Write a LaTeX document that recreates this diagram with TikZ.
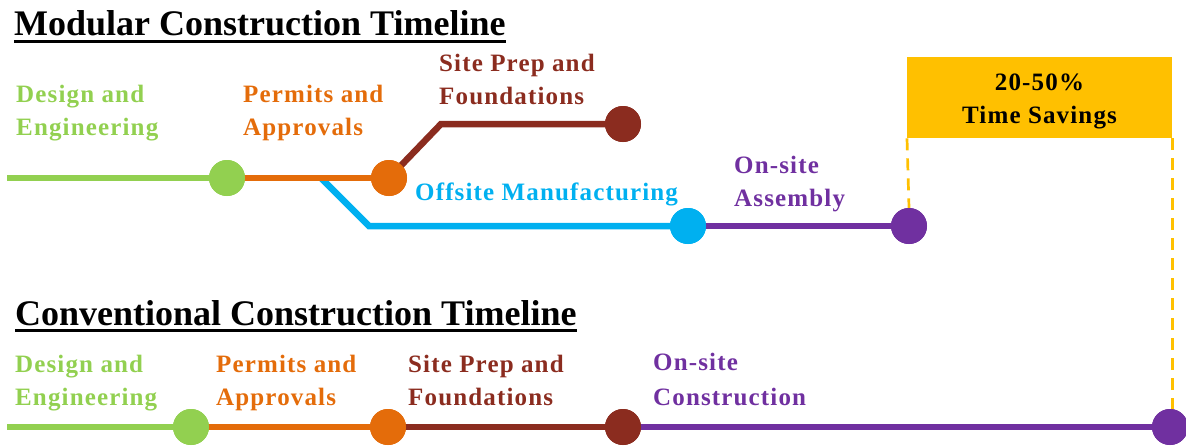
\documentclass[tikz,border=0pt]{standalone}
\usepackage{fontspec}
\setmainfont{Liberation Serif}
\newfontfamily\spacedserif{Liberation Serif}[LetterSpace=4.6]
\definecolor{cgreen}{HTML}{92D050}
\definecolor{corange}{HTML}{E46C0A}
\definecolor{cbrown}{HTML}{8B2C1F}
\definecolor{cblue}{HTML}{00B0F0}
\definecolor{cpurple}{HTML}{7030A0}
\definecolor{cgold}{HTML}{FFC000}
\begin{document}
\begin{tikzpicture}[x=1pt,y=-1pt,
  track/.style={line width=6.5pt},
  dot/.style={circle,minimum size=36pt,inner sep=0pt,draw=none},
  label/.style={font=\spacedserif\fontsize{25}{33}\selectfont\bfseries,inner sep=0pt,anchor=base west},
  heading/.style={font=\fontsize{36}{40}\selectfont\bfseries,inner sep=0pt,anchor=base west},
  guide/.style={cgold,line width=2.7pt,dash pattern=on 12pt off 8pt}]
\useasboundingbox (0,0) rectangle (1186,445);

% ---------- modular timeline ----------
\node[heading] (t1) at (14,35) {Modular Construction Timeline};
\draw[line width=3pt] ([yshift=-6pt]t1.base west) -- ([yshift=-6pt]t1.base east);

\node[fill=cgold,minimum width=265pt,minimum height=81pt,inner sep=0pt,anchor=north west] (save) at (907,57) {};
\node[label,anchor=base,text=black] (s1) at (1039.5,90) {20-50\%};
\node[label,anchor=base,text=black] (s2) at (1039.5,123) {Time Savings};

\coordinate (m0) at (7,178);
\coordinate (bstart) at (321,178);
\coordinate (bbend) at (369,226);
\coordinate (rbend) at (441,124);

\node[dot,fill=cgreen] (mg) at (227,178) {};
\node[dot,fill=corange] (mo) at (389,178) {};
\node[dot,fill=cbrown] (mr) at (623,124) {};
\node[dot,fill=cblue] (mb) at (688,226) {};
\node[dot,fill=cpurple] (mp) at (909,226) {};

\draw[guide] (save.south west) -- (mp.north);

% tracks run centre to centre; the stops are painted again on top
\draw[track,cblue] (bstart) -- (bbend) -- (mb.center);
\draw[track,cgreen] (m0) -- (mg.center);
\draw[track,corange] (mg.center) -- (mo.center);
\draw[track,cbrown] (mo.center) -- (rbend) -- (mr.center);
\draw[track,cpurple] (mb.center) -- (mp.center);
\node[dot,fill=cgreen] at (mg) {};
\node[dot,fill=corange] at (mo) {};
\node[dot,fill=cbrown] at (mr) {};
\node[dot,fill=cblue] at (mb) {};
\node[dot,fill=cpurple] at (mp) {};

\node[label,text=cgreen] (ml1a) at (16,102) {Design and};
\node[label,text=cgreen] (ml1b) at (16,135) {Engineering};
\node[label,text=corange] (ml2a) at (243,102) {Permits and};
\node[label,text=corange] (ml2b) at (243,135) {Approvals};
\node[label,text=cbrown] (ml3a) at (439,71) {Site Prep and};
\node[label,text=cbrown] (ml3b) at (439,104) {Foundations};
\node[label,text=cblue] (ml4) at (415,200) {Offsite Manufacturing};
\node[label,text=cpurple] (ml5a) at (734,173) {On-site};
\node[label,text=cpurple] (ml5b) at (734,206) {Assembly};

% ---------- conventional timeline ----------
\node[heading] (t2) at (15,325) {Conventional Construction Timeline};
\draw[line width=3pt] ([yshift=-5.5pt]t2.base west) -- ([yshift=-5.5pt]t2.base east);

\coordinate (c0) at (7,427);
\node[dot,fill=cgreen] (cg) at (191,427) {};
\node[dot,fill=corange] (co) at (388,427) {};
\node[dot,fill=cbrown] (cr) at (623,427) {};
\node[dot,fill=cpurple] (cp) at (1170,427) {};

\draw[guide] (save.south east) -- (save.south east |- cp.north);

\draw[track,cgreen] (c0) -- (cg.center);
\draw[track,corange] (cg.center) -- (co.center);
\draw[track,cbrown] (co.center) -- (cr.center);
\draw[track,cpurple] (cr.center) -- (cp.center);
\node[dot,fill=cgreen] at (cg) {};
\node[dot,fill=corange] at (co) {};
\node[dot,fill=cbrown] at (cr) {};
\node[dot,fill=cpurple] at (cp) {};

\node[label,text=cgreen] (cl1a) at (15,372) {Design and};
\node[label,text=cgreen] (cl1b) at (15,405) {Engineering};
\node[label,text=corange] (cl2a) at (216,372) {Permits and};
\node[label,text=corange] (cl2b) at (216,405) {Approvals};
\node[label,text=cbrown] (cl3a) at (408,372) {Site Prep and};
\node[label,text=cbrown] (cl3b) at (408,405) {Foundations};
\node[label,text=cpurple] (cl4a) at (653,370) {On-site};
\node[label,text=cpurple] (cl4b) at (653,405) {Construction};
\end{tikzpicture}
\end{document}
